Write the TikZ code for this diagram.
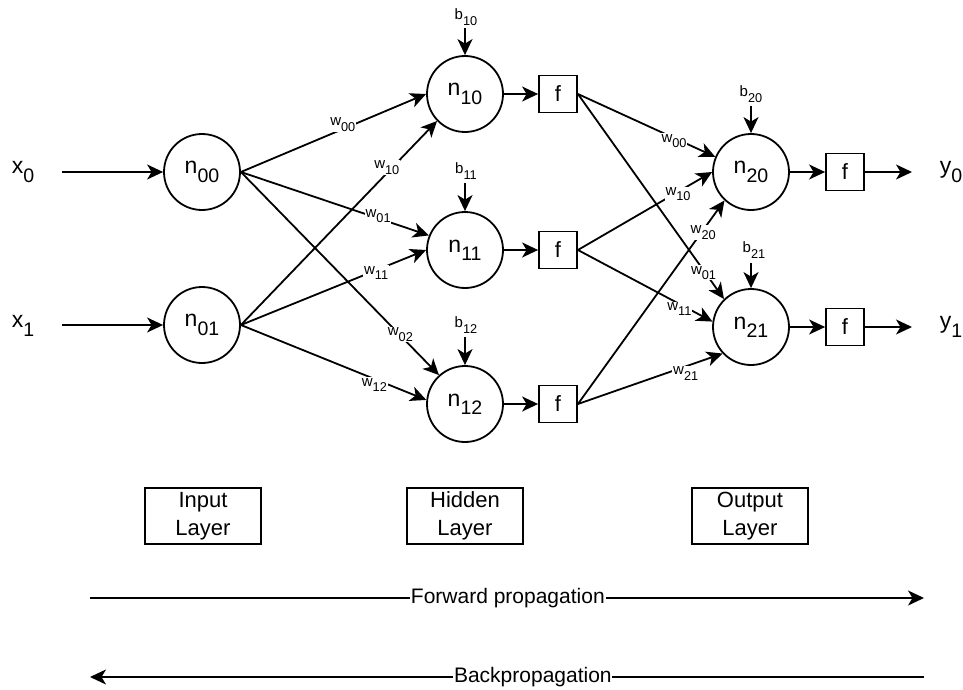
\documentclass[tikz,border=0pt]{standalone}
\usepackage{fontspec}
\setmainfont{Liberation Sans}
\usetikzlibrary{arrows.meta}
\newcommand{\lowsub}[1]{\raisebox{-0.36em}{\scalebox{0.85}{#1}}}
\tikzset{
  neuron/.style={circle, draw, line width=1.8pt, minimum size=76pt, inner sep=0pt,
    font=\fontsize{23}{27}\selectfont},
  fbox/.style={rectangle, draw, line width=1.8pt, minimum width=38pt, minimum height=37pt,
    inner sep=0pt, font=\fontsize{22}{26}\selectfont},
  iolab/.style={inner sep=0pt, font=\fontsize{23}{27}\selectfont},
  wl/.style={fill=white, inner sep=0.8pt, font=\fontsize{15}{17}\selectfont},
  bl/.style={inner sep=0pt, font=\fontsize{15}{17}\selectfont},
  layerbox/.style={draw, line width=1.8pt, minimum width=116pt, minimum height=56pt,
    align=center, inner sep=0pt, font=\fontsize{22}{28}\selectfont},
  proplab/.style={fill=white, inner sep=0.8pt, font=\fontsize{21}{25}\selectfont},
  arr/.style={line width=1.8pt, -{Stealth[length=16pt,width=15pt,inset=4.5pt]}},
}
\begin{document}
\begin{tikzpicture}[x=1pt,y=-1pt]
\useasboundingbox (0,0) rectangle (963,690);

% inputs
\node[iolab] (x0) at (23,172) {x\lowsub{0}};
\node[iolab] (x1) at (23,326) {x\lowsub{1}};
\coordinate (x0s) at (62,172);
\coordinate (x1s) at (62,325);

% neurons
\node[neuron] (n00) at (202,172) {n\lowsub{00}};
\node[neuron] (n01) at (202,325) {n\lowsub{01}};
\node[neuron] (n10) at (465,94) {n\lowsub{10}};
\node[neuron] (n11) at (465,250) {n\lowsub{11}};
\node[neuron] (n12) at (465,404) {n\lowsub{12}};
\node[neuron] (n20) at (751,172) {n\lowsub{20}};
\node[neuron] (n21) at (751,327) {n\lowsub{21}};

% activation boxes
\node[fbox] (f10) at (558,94) {f};
\node[fbox] (f11) at (558,250) {f};
\node[fbox] (f12) at (558,404) {f};
\node[fbox] (f20) at (845,172) {f};
\node[fbox] (f21) at (845,327) {f};

% outputs
\node[iolab] (y0) at (951,172) {y\lowsub{0}};
\node[iolab] (y1) at (951,327) {y\lowsub{1}};
\coordinate (y0e) at (912,172);
\coordinate (y1e) at (912,327);

% biases
\node[bl] (b10) at (466,17) {b\lowsub{10}};
\node[bl] (b11) at (466,171) {b\lowsub{11}};
\node[bl] (b12) at (466,325) {b\lowsub{12}};
\node[bl] (b20) at (751,94) {b\lowsub{20}};
\node[bl] (b21) at (754,250) {b\lowsub{21}};
\coordinate (b10s) at (465,28);
\coordinate (b11s) at (465,183);
\coordinate (b12s) at (465,337);
\coordinate (b20s) at (751,106);
\coordinate (b21s) at (751,263);
\draw[arr] (b10s) -- (n10.north);
\draw[arr] (b11s) -- (n11.north);
\draw[arr] (b12s) -- (n12.north);
\draw[arr] (b20s) -- (n20.north);
\draw[arr] (b21s) -- (n21.north);

% input arrows
\draw[arr] (x0s) -- (n00.west);
\draw[arr] (x1s) -- (n01.west);

% input -> hidden
\draw[arr] (n00.east) -- node[wl, pos=0.55, yshift=4.5pt] (lw00a) {w\lowsub{00}} (n10.west);
\draw[arr] (n00.east) -- node[wl, pos=0.73, yshift=2pt] (lw01a) {w\lowsub{01}} (n11.158);
\draw[arr] (n00.east) -- node[wl, pos=0.805, yshift=1pt] (lw02a) {w\lowsub{02}} (n12.132);
\draw[arr] (n01.east) -- node[wl, pos=0.744, yshift=5.5pt] (lw10a) {w\lowsub{10}} (n10.224);
\draw[arr] (n01.east) -- node[wl, pos=0.73, yshift=-2.5pt] (lw11a) {w\lowsub{11}} (n11.west);
\draw[arr] (n01.east) -- node[wl, pos=0.72, yshift=-6pt] (lw12a) {w\lowsub{12}} (n12.174);

% neuron -> f
\draw[arr] (n10.east) -- (f10.west);
\draw[arr] (n11.east) -- (f11.west);
\draw[arr] (n12.east) -- (f12.west);

% hidden -> output
\draw[arr] (f10.east) -- node[wl, pos=0.70, yshift=-3pt] (lw00b) {w\lowsub{00}} (n20.157);
\draw[arr] (f10.east) -- node[wl, pos=0.86, yshift=-2.5pt] (lw01b) {w\lowsub{01}} (n21.134);
\draw[arr] (f11.east) -- node[wl, pos=0.746, yshift=-2.5pt] (lw10b) {w\lowsub{10}} (n20.west);
\draw[arr] (f11.east) -- node[wl, pos=0.754, yshift=-5pt] (lw11b) {w\lowsub{11}} (n21.172);
\draw[arr] (f12.east) -- node[wl, pos=0.855, yshift=-2.7pt] (lw20b) {w\lowsub{20}} (n20.227);
\draw[arr] (f12.east) -- node[wl, pos=0.745, yshift=-7pt] (lw21b) {w\lowsub{21}} (n21.223);

% output side
\draw[arr] (n20.east) -- (f20.west);
\draw[arr] (n21.east) -- (f21.west);
\draw[arr] (f20.east) -- (y0e);
\draw[arr] (f21.east) -- (y1e);

% layer boxes
\node[layerbox] (inl) at (203,516) {Input\\Layer};
\node[layerbox] (hidl) at (465,516) {Hidden\\Layer};
\node[layerbox] (outl) at (750,516) {Output\\Layer};

% propagation arrows
\coordinate (fs) at (90,598);
\coordinate (fe) at (924,598);
\coordinate (bs) at (924,677);
\coordinate (be) at (90,677);
\draw[arr] (fs) -- node[proplab, pos=0.501] (fwd) {Forward propagation} (fe);
\draw[arr] (bs) -- node[proplab, pos=0.469] (bwd) {Backpropagation} (be);
\end{tikzpicture}
\end{document}
